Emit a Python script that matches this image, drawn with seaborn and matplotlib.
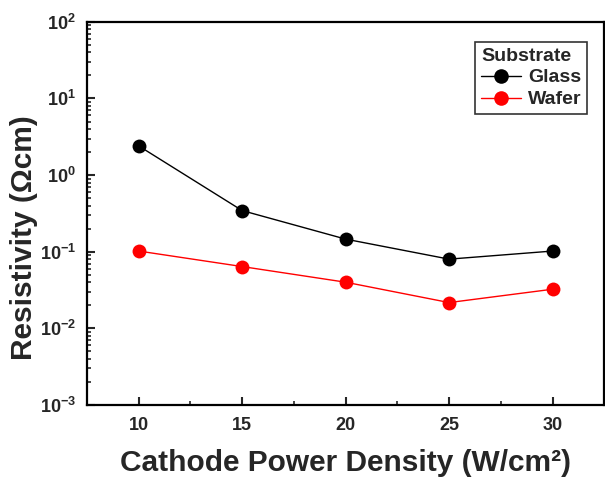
import matplotlib
matplotlib.use("Agg")
import matplotlib.pyplot as plt
import matplotlib.ticker as mticker
import seaborn as sns
import pandas as pd

power = [10, 15, 20, 25, 30]
glass = [2.4, 0.344, 0.146, 0.080, 0.102]
wafer = [0.102, 0.064, 0.040, 0.0217, 0.0324]
substrates = ["Glass", "Wafer"]
colors = {"Glass": "black", "Wafer": "red"}

df = pd.DataFrame({
    "power": power * 2,
    "res": glass + wafer,
    "Substrate": [substrates[0]] * len(power) + [substrates[1]] * len(power),
})

sns.set_style("ticks")
plt.rcParams["font.family"] = ["Liberation Sans", "DejaVu Sans"]
plt.rcParams["font.weight"] = "bold"

fig = plt.figure(figsize=(6.05, 4.79), dpi=100)
ax = fig.add_axes([0.1438, 0.1545, 0.855, 0.8])

sns.lineplot(data=df, x="power", y="res", hue="Substrate", palette=colors,
             marker="o", markersize=10, markeredgewidth=0, linewidth=1,
             ax=ax)

ax.set_yscale("log")
ax.set_ylim(1e-3, 1e2)
ax.set_xlim(7.5, 32.5)
ax.set_xticks([10, 15, 20, 25, 30])
ax.xaxis.set_minor_locator(mticker.MultipleLocator(2.5))
ax.yaxis.set_major_locator(mticker.LogLocator(base=10, numticks=10))
ax.yaxis.set_minor_locator(mticker.LogLocator(base=10, subs=range(2, 10), numticks=10))
ax.yaxis.set_minor_formatter(mticker.NullFormatter())

ax.tick_params(axis="both", which="major", direction="in", length=6, width=1.5,
               labelsize=13, top=False, right=False)
ax.tick_params(axis="x", which="major", pad=9)
ax.tick_params(axis="y", which="major", pad=8)
ax.tick_params(axis="both", which="minor", direction="in", length=3, width=1.2,
               top=False, right=False)
for lab in ax.get_xticklabels() + ax.get_yticklabels():
    lab.set_fontweight("bold")

for s in ax.spines.values():
    s.set_linewidth(1.6)
    s.set_color("black")

ax.set_xlabel("Cathode Power Density (W/cm\u00b2)", fontsize=21.5, fontweight="bold")
ax.set_ylabel("Resistivity (\u03a9cm)", fontsize=21.5, fontweight="bold")
ax.xaxis.set_label_coords(0.5, -0.115)
ax.yaxis.set_label_coords(-0.095, 0.436)

leg = ax.legend(title="Substrate", loc="upper right", bbox_to_anchor=(0.967, 0.948),
                borderaxespad=0,
                fontsize=14, title_fontproperties={"weight": "bold", "size": 14},
                frameon=True, fancybox=False, handlelength=2.05, borderpad=0.3,
                labelspacing=0.22, handletextpad=0.36, markerscale=1.05)
leg._legend_box.align = "left"
leg.get_frame().set_edgecolor("black")
leg.get_frame().set_linewidth(1.2)
for t in leg.get_texts():
    t.set_fontweight("bold")

fig.savefig("out.png", dpi=100)
